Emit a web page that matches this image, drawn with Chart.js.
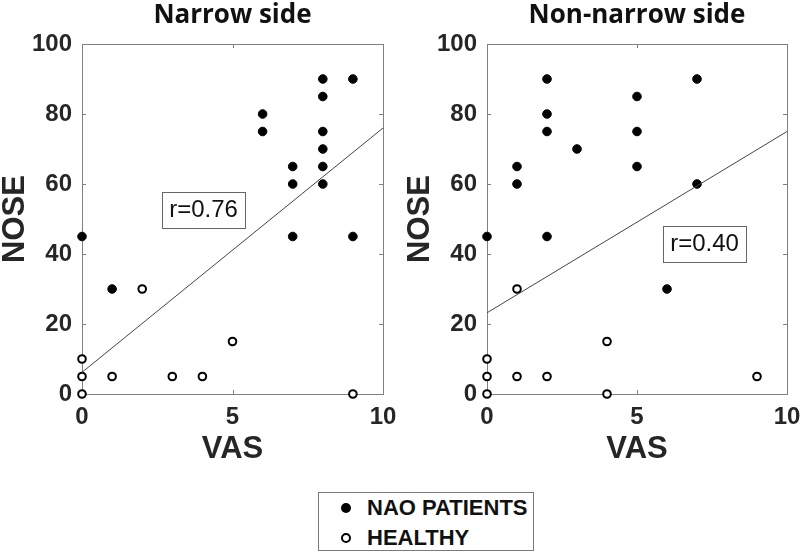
<!DOCTYPE html>
<html>
<head>
<meta charset="utf-8">
<script src="https://cdn.jsdelivr.net/npm/chart.js@4.4.1/dist/chart.umd.min.js"></script>
<style>
  body { margin: 0; background: #fff; }
  #wrap { position: relative; width: 800px; height: 553px; overflow: hidden; }
  canvas { position: absolute; top: 0; }
  #c1 { left: 0; }
  #c2 { left: 400px; }
  #legend {
    position: absolute; left: 318px; top: 492px; width: 214px; height: 57px;
    border: 1px solid #7a7a7a; background: #fff;
    font-family: 'Liberation Sans', Arial, sans-serif; font-weight: bold; font-size: 22px; color: #111;
  }
  .row { position: absolute; left: 0; height: 24px; line-height: 24px; white-space: nowrap; }
  .mk { position: absolute; left: 22px; top: 7px; box-sizing: border-box; border-radius: 50%; }
  .row span.t { position: absolute; left: 48px; top: 0; }
</style>
</head>
<body>
<div id="wrap">
  <canvas id="c1" width="400" height="470"></canvas>
  <canvas id="c2" width="400" height="470"></canvas>
  <div id="legend">
    <div class="row" style="top:3px"><span class="mk" style="width:10px;height:10px;background:#000"></span><span class="t">NAO PATIENTS</span></div>
    <div class="row" style="top:33px"><span class="mk" style="width:10px;height:10px;border:2px solid #000;background:#fff"></span><span class="t">HEALTHY</span></div>
  </div>
</div>
<script>
// ---- data ----
const vasTicks = [0, 5, 10];
const noseTicks = [0, 20, 40, 60, 80, 100];

// narrow side
const narrowNaoVas = [0, 1, 6, 6, 7, 7, 7, 8, 8, 8, 8, 8, 8, 9, 9];
const narrowNaoNose = [45, 30, 80, 75, 65, 60, 45, 90, 85, 75, 70, 65, 60, 90, 45];
const narrowHealthyVas = [0, 0, 0, 1, 2, 3, 4, 5, 9];
const narrowHealthyNose = [10, 5, 0, 5, 30, 5, 5, 15, 0];
const narrowFitVas = [0, 10];
const narrowFitNose = [6.2, 76];
const narrowR = 'r=0.76';

// non-narrow side
const otherNaoVas = [0, 1, 1, 2, 2, 2, 2, 3, 5, 5, 5, 6, 7, 7];
const otherNaoNose = [45, 65, 60, 90, 80, 75, 45, 70, 85, 75, 65, 30, 90, 60];
const otherHealthyVas = [0, 0, 0, 1, 1, 2, 4, 4, 9];
const otherHealthyNose = [10, 5, 0, 30, 5, 5, 15, 0, 5];
const otherFitVas = [0, 10];
const otherFitNose = [23.2, 75];
const otherR = 'r=0.40';

function pts(xs, ys) {
    return xs.map((v, i) => ({ x: v, y: ys[i] }));
}

// box round the plot area with inward ticks on all four sides
const frameBox = {
    id: 'frameBox',
    beforeDatasetsDraw(chart) {
        const { ctx, chartArea: a, scales: { x, y } } = chart;
        ctx.save();
        ctx.strokeStyle = '#808080';
        ctx.lineWidth = 1;
        ctx.strokeRect(Math.round(a.left) + 0.5, Math.round(a.top) + 0.5, Math.round(a.width), Math.round(a.height));
        ctx.beginPath();
        x.ticks.forEach(t => {
            const px = Math.round(x.getPixelForValue(t.value)) + 0.5;
            ctx.moveTo(px, a.bottom); ctx.lineTo(px, a.bottom - 4);
            ctx.moveTo(px, a.top); ctx.lineTo(px, a.top + 4);
        });
        y.ticks.forEach(t => {
            const py = Math.round(y.getPixelForValue(t.value)) + 0.5;
            ctx.moveTo(a.left, py); ctx.lineTo(a.left + 4, py);
            ctx.moveTo(a.right, py); ctx.lineTo(a.right - 4, py);
        });
        ctx.stroke();
        ctx.restore();
    }
};

// the r= label in its box
const rBox = {
    id: 'rBox',
    afterDatasetsDraw(chart, args, opts) {
        const { ctx, scales: { x, y } } = chart;
        const cx = x.getPixelForValue(opts.x);
        const cy = y.getPixelForValue(opts.y);
        const w = 83, h = 36;
        ctx.save();
        ctx.fillStyle = '#fff';
        ctx.strokeStyle = '#666';
        ctx.lineWidth = 1;
        ctx.fillRect(Math.round(cx - w / 2), Math.round(cy - h / 2), w, h);
        ctx.strokeRect(Math.round(cx - w / 2) + 0.5, Math.round(cy - h / 2) + 0.5, w, h);
        ctx.fillStyle = '#111';
        ctx.font = '24px "Liberation Sans", Arial, sans-serif';
        ctx.textAlign = 'center';
        ctx.textBaseline = 'middle';
        ctx.fillText(opts.text, cx, cy + 1);
        ctx.restore();
    }
};

const tickFont = { family: "'Liberation Sans', Arial, sans-serif", weight: 'bold', size: 24 };
const labelFont = { family: "'Liberation Sans', Arial, sans-serif", weight: 'bold', size: 31, lineHeight: 1 };

function makeChart(id, title, nao, healthy, fit, r, yWidth, padRight, noseOffset) {
    return new Chart(document.getElementById(id), {
        type: 'scatter',
        data: {
            datasets: [
                {
                    label: 'fit',
                    type: 'line',
                    data: fit,
                    borderColor: '#444',
                    borderWidth: 1,
                    pointRadius: 0,
                    fill: false
                },
                {
                    label: 'NAO PATIENTS',
                    data: nao,
                    backgroundColor: '#000',
                    borderColor: '#000',
                    borderWidth: 1,
                    pointRadius: 4.3,
                    clip: false
                },
                {
                    label: 'HEALTHY',
                    data: healthy,
                    backgroundColor: '#fff',
                    borderColor: '#000',
                    borderWidth: 2,
                    pointRadius: 3.8,
                    clip: false
                }
            ]
        },
        options: {
            responsive: false,
            animation: false,
            layout: { padding: { top: 0, right: padRight, bottom: 0, left: 0 } },
            plugins: {
                legend: { display: false },
                tooltip: { enabled: false },
                title: {
                    display: true,
                    text: title,
                    fullSize: false,
                    color: '#111',
                    font: { family: "'Open Sans', sans-serif", weight: 'bold', size: 26, lineHeight: 1.2 },
                    padding: { top: 0, bottom: 12.8 }
                },
                rBox: r
            },
            scales: {
                x: {
                    type: 'linear',
                    min: 0,
                    max: 10,
                    afterBuildTicks: s => { s.ticks = vasTicks.map(v => ({ value: v })); },
                    afterFit: s => { s.height = 76; s.paddingLeft = 0; s.paddingRight = 0; },
                    grid: { display: false, drawTicks: false },
                    border: { display: false },
                    ticks: { color: '#262626', font: tickFont, padding: 9, maxRotation: 0 },
                    title: { display: true, text: 'VAS', color: '#262626', font: labelFont, padding: { top: 0, bottom: 5 } }
                },
                y: {
                    type: 'linear',
                    min: 0,
                    max: 100,
                    afterBuildTicks: s => { s.ticks = noseTicks.map(v => ({ value: v })); },
                    afterFit: s => { s.width = yWidth; s.paddingTop = 0; s.paddingBottom = 0; },
                    grid: { display: false, drawTicks: false },
                    border: { display: false },
                    ticks: { color: '#262626', font: tickFont, padding: 10 },
                    title: { display: true, text: 'NOSE', color: '#262626', font: labelFont, padding: { top: noseOffset, bottom: 0 } }
                }
            }
        },
        plugins: [frameBox, rBox]
    });
}

makeChart('c1', 'Narrow side',
    pts(narrowNaoVas, narrowNaoNose), pts(narrowHealthyVas, narrowHealthyNose),
    pts(narrowFitVas, narrowFitNose), { text: narrowR, x: 4.04, y: 52.7 }, 82, 17, 0);

makeChart('c2', 'Non-narrow side',
    pts(otherNaoVas, otherNaoNose), pts(otherHealthyVas, otherHealthyNose),
    pts(otherFitVas, otherFitNose), { text: otherR, x: 7.25, y: 42.9 }, 87, 13, 5);
</script>
</body>
</html>
